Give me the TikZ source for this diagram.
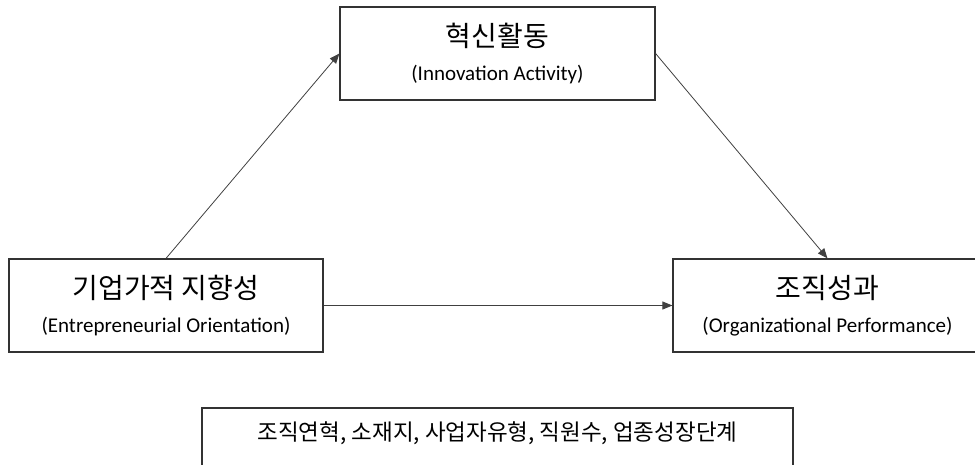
\documentclass[tikz,border=0pt]{standalone}
\usepackage{fontspec}
\setmainfont{Carlito}
\newfontfamily\kor{Noto Sans CJK KR}
\usetikzlibrary{arrows.meta}
\newcommand{\kolabel}[1]{{\kor\fontsize{28pt}{34pt}\selectfont #1}}

\begin{document}
\begin{tikzpicture}[x=1pt,y=-1pt,
    box/.style={draw=black!80, line width=1.2pt, rectangle, inner sep=0pt,
                align=center, font=\fontsize{21pt}{34pt}\selectfont},
    link/.style={draw=black!75, line width=0.8pt, -{Triangle[length=10pt,width=8pt]}}]
            \useasboundingbox (0,0) rectangle (975,464);
            \clip (0,0) rectangle (975,464);
            \node[box, minimum width=315pt, minimum height=93pt] (innov) at (497.5,53.5)
                {\kolabel{혁신활동}\\(Innovation Activity)};
            \node[box, minimum width=314pt, minimum height=93pt] (eo) at (166,305.5)
                {\kolabel{기업가적 지향성}\\(Entrepreneurial Orientation)};
            \node[box, minimum width=309pt, minimum height=93pt] (perf) at (827.5,305.5)
                {\kolabel{조직성과}\\(Organizational Performance)};
            %
            \node[box, minimum width=591pt, minimum height=62pt, text height=19pt, text depth=17pt,
                  font=\kor\fontsize{22.5pt}{26pt}\selectfont] (ctrl) at (497.5,439)
                {조직연혁, 소재지, 사업자유형, 직원수, 업종성장단계};
            %
            \draw[link] (eo.north) to (innov.west);
            \draw[link] (innov.east) to (perf.north);
            \draw[link] (eo.east) to (perf.west);
\end{tikzpicture}
\end{document}
